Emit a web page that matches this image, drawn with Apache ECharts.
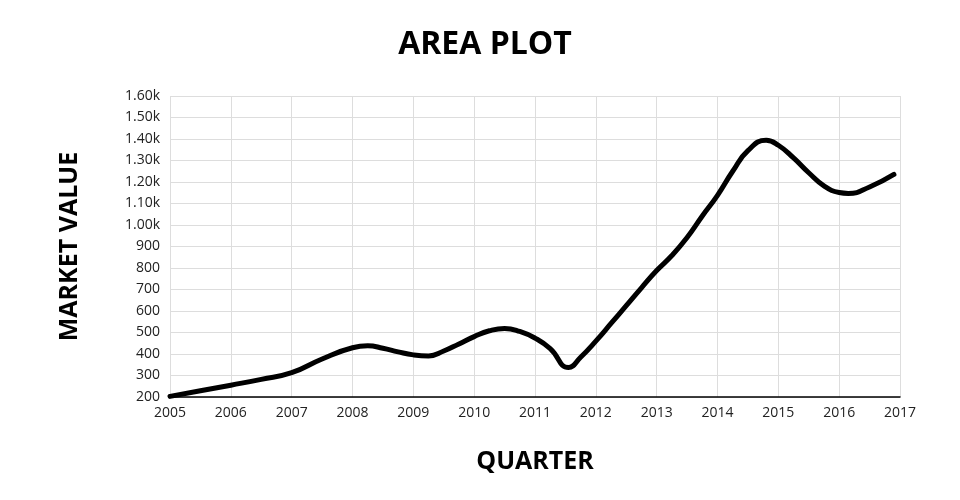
<!DOCTYPE html>
<html>
<head>
<meta charset="utf-8">
<script src="https://cdn.jsdelivr.net/npm/echarts@6/dist/echarts.min.js"></script>
<style>html,body{margin:0;padding:0;background:#fff}#c{width:960px;height:500px}</style>
</head>
<body>
<div id="c"></div>
<script>
const quarters = [2005.0, 2005.5, 2006.0, 2006.5, 2007.0, 2007.5, 2008.0, 2008.25, 2008.5, 2008.75, 2009.0, 2009.25, 2009.5, 2009.75, 2010.0, 2010.25, 2010.5, 2010.75, 2011.0, 2011.25, 2011.55, 2011.75, 2012.0, 2012.25, 2012.5, 2012.75, 2013.0, 2013.25, 2013.5, 2013.75, 2014.0, 2014.25, 2014.5, 2014.8, 2015.0, 2015.25, 2015.5, 2015.75, 2016.0, 2016.15, 2016.5, 2016.9];
const marketValues = [203, 229, 255, 282, 313, 377, 429, 438, 427, 410, 396, 391, 414, 447, 481, 508, 519, 505, 474, 425, 337, 385, 460, 542, 625, 708, 788, 858, 942, 1042, 1138, 1250, 1346, 1394, 1371, 1312, 1243, 1182, 1151, 1147, 1177, 1235];
const titleText = 'AREA PLOT';
const xName = 'QUARTER';
const yName = 'MARKET VALUE';

const chart = echarts.init(document.getElementById('c'), null, {renderer: 'canvas'});
const font = "'Open Sans', 'Noto Sans', sans-serif";
chart.setOption({
  animation: false,
  backgroundColor: '#fff',
  title: {text: titleText, left: 480, top: 24, textAlign: 'center',
    textStyle: {fontFamily: font, fontWeight: 'bold', fontSize: 32, color: '#000'}},
  grid: {left: 170, right: 60, top: 96, bottom: 103, containLabel: false},
  xAxis: {type: 'value', min: 2005, max: 2017, interval: 1,
    name: xName, nameLocation: 'middle', nameGap: 52,
    nameTextStyle: {fontFamily: font, fontWeight: 'bold', fontSize: 25, color: '#000'},
    axisLine: {show: true, lineStyle: {color: '#000', width: 1.5}},
    axisTick: {show: false},
    axisLabel: {fontFamily: font, fontSize: 14, color: '#222', margin: 9, formatter: v => String(v)},
    splitLine: {show: true, lineStyle: {color: '#ddd', width: 1}}},
  yAxis: {type: 'value', min: 200, max: 1600, interval: 100,
    name: yName, nameLocation: 'middle', nameGap: 88, nameRotate: 90,
    nameTextStyle: {fontFamily: font, fontWeight: 'bold', fontSize: 25, color: '#000'},
    axisLine: {show: false}, axisTick: {show: false},
    axisLabel: {fontFamily: font, fontSize: 14, color: '#222', margin: 10,
      formatter: v => v >= 1000 ? (v / 1000).toFixed(2) + 'k' : String(v)},
    splitLine: {show: true, lineStyle: {color: '#ddd', width: 1}}},
  series: [{type: 'line', smooth: 0.5, symbol: 'none',
    data: quarters.map((q, i) => [q, marketValues[i]]),
    lineStyle: {color: '#000', width: 5, cap: 'round', join: 'round'}}]
});
</script>
</body>
</html>
